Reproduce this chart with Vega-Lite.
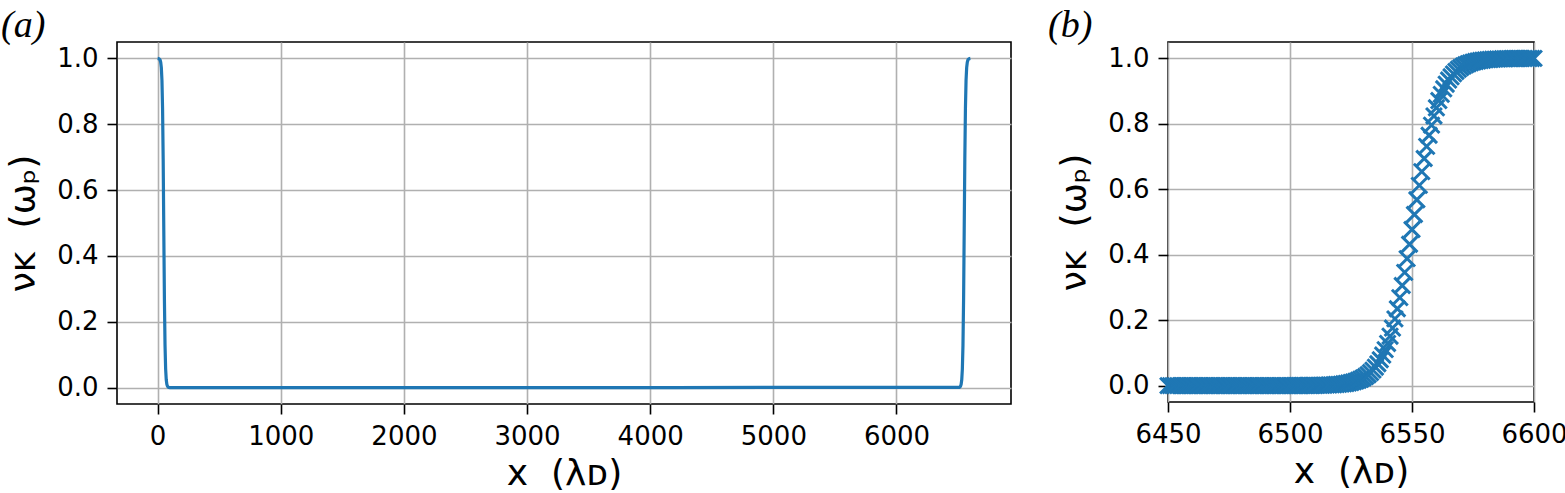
{
  "$schema": "https://vega.github.io/schema/vega-lite/v6.json",
  "padding": {"left": 0, "top": 6, "right": 0, "bottom": 0},
  "background": "white",
  "spacing": 157,
  "bounds": "flush",
  "datasets": {
    "full": [
      {"x": 0, "v": 1.0}, {"x": 5, "v": 0.9997}, {"x": 10, "v": 0.9992}, {"x": 15, "v": 0.9981},
      {"x": 20, "v": 0.9953}, {"x": 25, "v": 0.9885}, {"x": 30, "v": 0.972}, {"x": 35, "v": 0.9337},
      {"x": 40, "v": 0.849}, {"x": 45, "v": 0.694}, {"x": 50, "v": 0.477}, {"x": 55, "v": 0.269},
      {"x": 60, "v": 0.129}, {"x": 65, "v": 0.0563}, {"x": 70, "v": 0.0235}, {"x": 75, "v": 0.0096},
      {"x": 80, "v": 0.0039}, {"x": 85, "v": 0.0016}, {"x": 90, "v": 0.0006}, {"x": 100, "v": 0.0},
      {"x": 1000, "v": 0.0}, {"x": 2000, "v": 0.0}, {"x": 3000, "v": 0.0}, {"x": 4000, "v": 0.0},
      {"x": 4200, "v": 0.0}, {"x": 5000, "v": 0.0005}, {"x": 6000, "v": 0.0005}, {"x": 6500, "v": 0.0005},
      {"x": 6505, "v": 0.0005}, {"x": 6510, "v": 0.0006}, {"x": 6515, "v": 0.0016}, {"x": 6520, "v": 0.0039},
      {"x": 6525, "v": 0.0096}, {"x": 6530, "v": 0.0235}, {"x": 6535, "v": 0.0563}, {"x": 6540, "v": 0.129},
      {"x": 6545, "v": 0.269}, {"x": 6550, "v": 0.477}, {"x": 6555, "v": 0.694}, {"x": 6560, "v": 0.849},
      {"x": 6565, "v": 0.9337}, {"x": 6570, "v": 0.972}, {"x": 6575, "v": 0.9885}, {"x": 6580, "v": 0.9953},
      {"x": 6585, "v": 0.9981}, {"x": 6590, "v": 0.9992}, {"x": 6595, "v": 0.9997}, {"x": 6600, "v": 1.0}
    ],
    "zoom": [
      {"x": 6450, "v": 0}, {"x": 6451, "v": 0}, {"x": 6452, "v": 0}, {"x": 6453, "v": 0}, {"x": 6454, "v": 0},
      {"x": 6455, "v": 0}, {"x": 6456, "v": 0}, {"x": 6457, "v": 0}, {"x": 6458, "v": 0}, {"x": 6459, "v": 0},
      {"x": 6460, "v": 0}, {"x": 6461, "v": 0}, {"x": 6462, "v": 0}, {"x": 6463, "v": 0}, {"x": 6464, "v": 0},
      {"x": 6465, "v": 0}, {"x": 6466, "v": 0}, {"x": 6467, "v": 0}, {"x": 6468, "v": 0}, {"x": 6469, "v": 0},
      {"x": 6470, "v": 0}, {"x": 6471, "v": 0}, {"x": 6472, "v": 0}, {"x": 6473, "v": 0}, {"x": 6474, "v": 0},
      {"x": 6475, "v": 0}, {"x": 6476, "v": 0}, {"x": 6477, "v": 0}, {"x": 6478, "v": 0}, {"x": 6479, "v": 0},
      {"x": 6480, "v": 0}, {"x": 6481, "v": 0}, {"x": 6482, "v": 0}, {"x": 6483, "v": 0}, {"x": 6484, "v": 0},
      {"x": 6485, "v": 0}, {"x": 6486, "v": 0}, {"x": 6487, "v": 0}, {"x": 6488, "v": 0}, {"x": 6489, "v": 0},
      {"x": 6490, "v": 0}, {"x": 6491, "v": 0}, {"x": 6492, "v": 0}, {"x": 6493, "v": 0}, {"x": 6494, "v": 0},
      {"x": 6495, "v": 0}, {"x": 6496, "v": 0}, {"x": 6497, "v": 0}, {"x": 6498, "v": 0}, {"x": 6499, "v": 0},
      {"x": 6500, "v": 0.0001}, {"x": 6501, "v": 0.0001}, {"x": 6502, "v": 0.0002}, {"x": 6503, "v": 0.0002}, {"x": 6504, "v": 0.0002},
      {"x": 6505, "v": 0.0003}, {"x": 6506, "v": 0.0003}, {"x": 6507, "v": 0.0004}, {"x": 6508, "v": 0.0004}, {"x": 6509, "v": 0.0005},
      {"x": 6510, "v": 0.0006}, {"x": 6511, "v": 0.0008}, {"x": 6512, "v": 0.0009}, {"x": 6513, "v": 0.0011}, {"x": 6514, "v": 0.0013},
      {"x": 6515, "v": 0.0016}, {"x": 6516, "v": 0.0019}, {"x": 6517, "v": 0.0023}, {"x": 6518, "v": 0.0027}, {"x": 6519, "v": 0.0033},
      {"x": 6520, "v": 0.0039}, {"x": 6521, "v": 0.0047}, {"x": 6522, "v": 0.0056}, {"x": 6523, "v": 0.0067}, {"x": 6524, "v": 0.008},
      {"x": 6525, "v": 0.0096}, {"x": 6526, "v": 0.0115}, {"x": 6527, "v": 0.0138}, {"x": 6528, "v": 0.0164}, {"x": 6529, "v": 0.0197},
      {"x": 6530, "v": 0.0235}, {"x": 6531, "v": 0.028}, {"x": 6532, "v": 0.0334}, {"x": 6533, "v": 0.0399}, {"x": 6534, "v": 0.0474},
      {"x": 6535, "v": 0.0563}, {"x": 6536, "v": 0.0668}, {"x": 6537, "v": 0.0791}, {"x": 6538, "v": 0.0934}, {"x": 6539, "v": 0.11},
      {"x": 6540, "v": 0.129}, {"x": 6541, "v": 0.151}, {"x": 6542, "v": 0.176}, {"x": 6543, "v": 0.204}, {"x": 6544, "v": 0.235},
      {"x": 6545, "v": 0.269}, {"x": 6546, "v": 0.306}, {"x": 6547, "v": 0.346}, {"x": 6548, "v": 0.388}, {"x": 6549, "v": 0.432},
      {"x": 6550, "v": 0.477}, {"x": 6551, "v": 0.523}, {"x": 6552, "v": 0.568}, {"x": 6553, "v": 0.612}, {"x": 6554, "v": 0.654},
      {"x": 6555, "v": 0.694}, {"x": 6556, "v": 0.731}, {"x": 6557, "v": 0.765}, {"x": 6558, "v": 0.796}, {"x": 6559, "v": 0.824},
      {"x": 6560, "v": 0.849}, {"x": 6561, "v": 0.871}, {"x": 6562, "v": 0.89}, {"x": 6563, "v": 0.907}, {"x": 6564, "v": 0.921},
      {"x": 6565, "v": 0.9337}, {"x": 6566, "v": 0.9437}, {"x": 6567, "v": 0.9526}, {"x": 6568, "v": 0.9601}, {"x": 6569, "v": 0.9666},
      {"x": 6570, "v": 0.972}, {"x": 6571, "v": 0.9765}, {"x": 6572, "v": 0.9803}, {"x": 6573, "v": 0.9836}, {"x": 6574, "v": 0.9862},
      {"x": 6575, "v": 0.9885}, {"x": 6576, "v": 0.9904}, {"x": 6577, "v": 0.992}, {"x": 6578, "v": 0.9933}, {"x": 6579, "v": 0.9944},
      {"x": 6580, "v": 0.9953}, {"x": 6581, "v": 0.9961}, {"x": 6582, "v": 0.9967}, {"x": 6583, "v": 0.9973}, {"x": 6584, "v": 0.9977},
      {"x": 6585, "v": 0.9981}, {"x": 6586, "v": 0.9984}, {"x": 6587, "v": 0.9987}, {"x": 6588, "v": 0.9989}, {"x": 6589, "v": 0.9991},
      {"x": 6590, "v": 0.9992}, {"x": 6591, "v": 0.9994}, {"x": 6592, "v": 0.9995}, {"x": 6593, "v": 0.9996}, {"x": 6594, "v": 0.9996},
      {"x": 6595, "v": 0.9997}, {"x": 6596, "v": 0.9997}, {"x": 6597, "v": 0.9998}, {"x": 6598, "v": 0.9998}, {"x": 6599, "v": 0.9998},
      {"x": 6600, "v": 0.9999}
    ]
  },
  "hconcat": [
    {
      "width": 894,
      "height": 362,
      "title": {"text": "(a)", "dx": -116},
      "data": {"name": "full"},
      "mark": {"type": "line", "color": "#1f77b4", "strokeWidth": 3.2},
      "encoding": {
        "x": {
          "field": "x", "type": "quantitative",
          "scale": {"domain": [-330, 6930], "nice": false, "zero": false},
          "axis": {"values": [0, 1000, 2000, 3000, 4000, 5000, 6000], "format": "d", "title": "x\u00a0\u00a0(λᴅ)"}
        },
        "y": {
          "field": "v", "type": "quantitative",
          "scale": {"domain": [-0.05, 1.05], "nice": false},
          "axis": {"values": [0, 0.2, 0.4, 0.6, 0.8, 1.0], "format": ".1f", "title": "νᴋ\u00a0\u00a0(ωₚ)"}
        }
      }
    },
    {
      "width": 366,
      "height": 360,
      "title": {"text": "(b)", "dx": -120},
      "data": {"name": "zoom"},
      "mark": {
        "type": "point",
        "shape": "M-1,-1L1,1M-1,1L1,-1",
        "filled": false,
        "color": "#1f77b4",
        "strokeWidth": 3,
        "size": 250,
        "opacity": 1
      },
      "encoding": {
        "x": {
          "field": "x", "type": "quantitative",
          "scale": {"domain": [6450, 6600], "nice": false, "zero": false},
          "axis": {"values": [6450, 6500, 6550, 6600], "format": "d", "title": "x\u00a0\u00a0(λᴅ)"}
        },
        "y": {
          "field": "v", "type": "quantitative",
          "scale": {"domain": [-0.05, 1.05], "nice": false},
          "axis": {"values": [0, 0.2, 0.4, 0.6, 0.8, 1.0], "format": ".1f", "title": "νᴋ\u00a0\u00a0(ωₚ)"}
        }
      }
    }
  ],
  "config": {
    "view": {"stroke": "#000", "strokeWidth": 1.6},
    "axis": {
      "grid": true,
      "gridColor": "#b0b0b0",
      "gridWidth": 1.6,
      "domain": false,
      "tickColor": "#000",
      "tickSize": 10,
      "tickWidth": 1.6,
      "labelFont": "DejaVu Sans",
      "labelFontSize": 26,
      "labelColor": "#000",
      "labelFlush": false,
      "labelOverlap": false,
      "labelBound": false,
      "titleFont": "DejaVu Sans",
      "titleFontSize": 36,
      "titleFontWeight": "normal",
      "titleColor": "#000"
    },
    "axisX": {"labelPadding": 9, "titlePadding": 7},
    "axisY": {"labelPadding": 9, "titlePadding": 14},
    "title": {
      "font": "Liberation Serif",
      "fontStyle": "italic",
      "fontSize": 38,
      "fontWeight": "normal",
      "color": "#000",
      "anchor": "start",
      "frame": "group",
      "offset": -3
    }
  }
}
